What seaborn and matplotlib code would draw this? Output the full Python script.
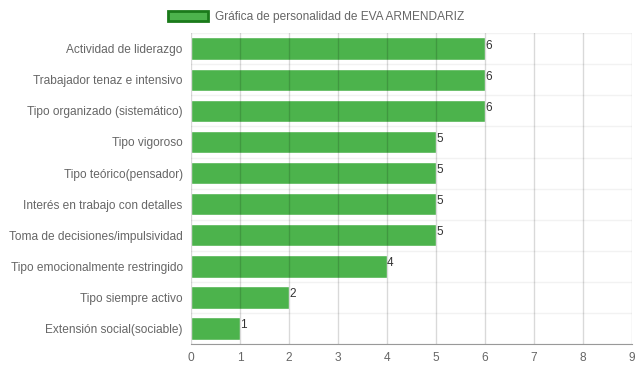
import numpy as np
import pandas as pd
import matplotlib.pyplot as plt
import seaborn as sns
from matplotlib.patches import Patch

categories = [
    "Actividad de liderazgo",
    "Trabajador tenaz e intensivo",
    "Tipo organizado (sistemático)",
    "Tipo vigoroso",
    "Tipo teórico(pensador)",
    "Interés en trabajo con detalles",
    "Toma de decisiones/impulsividad",
    "Tipo emocionalmente restringido",
    "Tipo siempre activo",
    "Extensión social(sociable)",
]
values = [6, 6, 6, 5, 5, 5, 5, 4, 2, 1]
series_name = "Gráfica de personalidad de EVA ARMENDARIZ"

df = pd.DataFrame({"cat": categories, "val": values})

sns.set_style("white")
plt.rcParams["font.family"] = ["Liberation Sans", "DejaVu Sans"]

fig = plt.figure(figsize=(6.39, 3.72), dpi=100)
ax = fig.add_axes([0.299, 0.075, 0.690, 0.836])

sns.barplot(data=df, y="cat", x="val", orient="h", color="#4cb34c",
            saturation=1, width=0.72, ax=ax, zorder=2)

# grid drawn over the bars, faintly
for x in range(0, 10):
    ax.axvline(x, color="black", alpha=0.15, lw=1, zorder=3)
for i in range(len(categories) + 1):
    ax.axhline(i - 0.5, color="black", alpha=0.05, lw=1, zorder=1)

for i, v in enumerate(values):
    ax.text(v, i - 0.1, str(v), va="center", ha="left", fontsize=8.5, color="#333333", zorder=4)

ax.set_xlim(0, 9)
ax.set_ylim(len(categories) - 0.5, -0.5)
ax.set_xticks(range(0, 10))
ax.set_xlabel("")
ax.set_ylabel("")
ax.tick_params(axis="both", labelsize=8.6, colors="#666666", length=0, pad=6)
for s in ["top", "right", "left"]:
    ax.spines[s].set_visible(False)
ax.spines["bottom"].set_color("#999999")

handle = Patch(facecolor="#4cb34c", edgecolor="#1a7a1a", linewidth=2)
fig.legend([handle], [series_name], loc="upper center", bbox_to_anchor=(0.495, 1.0),
           frameon=False, fontsize=8.6, handlelength=3.3, handleheight=1.0,
           labelcolor="#666666", handletextpad=0.6)

fig.savefig("out.png", dpi=100)
